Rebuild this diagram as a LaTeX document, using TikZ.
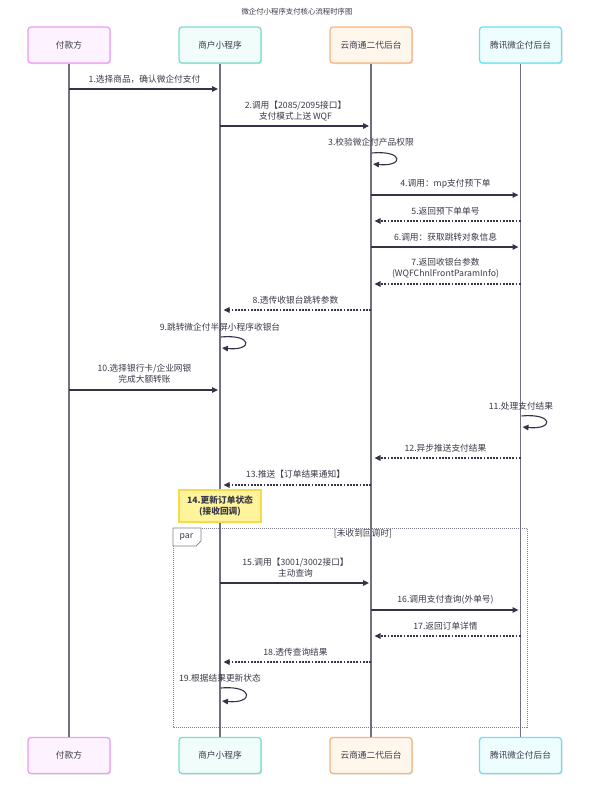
\documentclass[tikz,border=0pt]{standalone}
\usepackage{fontspec}
\setmainfont{Noto Sans CJK SC}
\usetikzlibrary{arrows.meta,shadows,calc}
\definecolor{txt}{HTML}{3A3A48}
\definecolor{lifec}{HTML}{70707E}
\definecolor{arr}{HTML}{33334A}
\definecolor{frm}{HTML}{80808C}
\definecolor{paB}{HTML}{EE9DF8}\definecolor{paF}{HTML}{FDF2FF}
\definecolor{shB}{HTML}{7EDCCB}\definecolor{shF}{HTML}{F0FDFA}
\definecolor{ysB}{HTML}{F8B47C}\definecolor{ysF}{HTML}{FFF6EC}
\definecolor{txB}{HTML}{6DE0F2}\definecolor{txF}{HTML}{EEFEFF}
\definecolor{noteF}{HTML}{FFF39C}\definecolor{noteB}{HTML}{F6D94C}
\tikzset{
  actor/.style={draw, line width=1.3pt, rounded corners=3pt, minimum width=82pt, minimum height=36pt,
     inner sep=0pt, text=txt, font=\fontsize{8.7}{11}\selectfont,
     drop shadow={shadow xshift=1pt, shadow yshift=-1.2pt, opacity=0.12, fill=black}},
  lifel/.style={draw=lifec, line width=1.6pt},
  msg/.style={draw=arr, line width=1.1pt, -{Triangle[length=6pt,width=5.5pt]}, shorten >=2pt},
  ret/.style={draw=arr, line width=1.1pt, dash pattern=on 1.8pt off 1.4pt, -{Triangle[length=6pt,width=5.5pt]}, shorten >=3.5pt},
  lbl/.style={text=txt, font=\fontsize{8.7}{11}\selectfont, align=center, inner sep=0pt},
}
\begin{document}
\begin{tikzpicture}[x=1pt,y=-1pt]
\useasboundingbox[fill=white] (0,0) rectangle (591,796);
\node[lbl, font=\fontsize{7.4}{9}\selectfont] (title) at (297,12) {微企付小程序支付核心流程时序图};
% actors top
\node[actor, draw=paB, fill=paF] (pa) at (69,45) {付款方};
\node[actor, draw=shB, fill=shF] (sh) at (220,45) {商户小程序};
\node[actor, draw=ysB, fill=ysF] (ys) at (371,45) {云商通二代后台};
\node[actor, draw=txB, fill=txF] (tx) at (520.5,45) {腾讯微企付后台};
% actors bottom
\node[actor, draw=paB, fill=paF] (pa2) at (69,755.5) {付款方};
\node[actor, draw=shB, fill=shF] (sh2) at (220,755.5) {商户小程序};
\node[actor, draw=ysB, fill=ysF] (ys2) at (371,755.5) {云商通二代后台};
\node[actor, draw=txB, fill=txF] (tx2) at (520.5,755.5) {腾讯微企付后台};
% par frame
\draw[frm, line width=0.8pt, dash pattern=on 1pt off 1pt] (173,528) rectangle (527,727);
\node[lbl] (parcond) at (363,534) {[未收到回调时]};
% lifelines
\draw[lifel] (pa.south) -- (pa2.north);
\draw[lifel] (sh.south) -- (sh2.north);
\draw[lifel] (ys.south) -- (ys2.north);
\draw[lifel] (tx.south) -- (tx2.north);
% par tab
\draw[frm, fill=white, line width=0.7pt] (173,528) -- (201,528) -- (201,541) -- (196,546) -- (173,546) -- cycle;
\node[lbl] (partab) at (186.5,537) {par};
% 1
\node[lbl] (l1) at (144.5,79) {1.选择商品，确认微企付支付};
\draw[msg] (pa |- 0,89) -- (sh |- 0,89);
% 2
\node[lbl] (l2) at (295.5,111) {2.调用【2085/2095接口】\\支付模式上送 WQF};
\draw[msg] (sh |- 0,126) -- (ys |- 0,126);
% 3
\node[lbl] (l3) at (371,142) {3.校验微企付产品权限};
\coordinate (s3a) at (372,153);
\coordinate (s3b) at (373,164);
\draw[draw=arr, line width=1.1pt, -{Triangle[length=6pt,width=5.5pt]}] (s3a) .. controls (404,150) and (404,167) .. (s3b);
% 4
\node[lbl] (l4) at (445.5,184) {4.调用：mp支付预下单};
\draw[msg] (ys |- 0,195) -- (tx |- 0,195);
% 5
\node[lbl] (l5) at (445.5,211) {5.返回预下单单号};
\draw[ret] (tx |- 0,221) -- (ys |- 0,221);
% 6
\node[lbl] (l6) at (445.5,237) {6.调用：获取跳转对象信息};
\draw[msg] (ys |- 0,247) -- (tx |- 0,247);
% 7
\node[lbl] (l7) at (445.5,268.5) {7.返回收银台参数\\(WQFChnlFrontParamInfo)};
\draw[ret] (tx |- 0,284) -- (ys |- 0,284);
% 8
\node[lbl] (l8) at (295.5,300) {8.透传收银台跳转参数};
\draw[ret] (ys |- 0,310) -- (sh |- 0,310);
% 9
\node[lbl] (l9) at (220,327) {9.跳转微企付半屏小程序收银台};
\coordinate (s9a) at (221,337);
\coordinate (s9b) at (222,348);
\draw[draw=arr, line width=1.1pt, -{Triangle[length=6pt,width=5.5pt]}] (s9a) .. controls (253,334) and (253,351) .. (s9b);
% 10
\node[lbl] (l10) at (144.5,374) {10.选择银行卡/企业网银\\完成大额转账};
\draw[msg] (pa |- 0,390) -- (sh |- 0,390);
% 11
\node[lbl] (l11) at (521,406) {11.处理支付结果};
\coordinate (s11a) at (521.5,416);
\coordinate (s11b) at (522.5,427);
\draw[draw=arr, line width=1.1pt, -{Triangle[length=6pt,width=5.5pt]}] (s11a) .. controls (554,413) and (554,430) .. (s11b);
% 12
\node[lbl] (l12) at (445.5,448) {12.异步推送支付结果};
\draw[ret] (tx |- 0,458) -- (ys |- 0,458);
% 13
\node[lbl] (l13) at (295.5,474) {13.推送【订单结果通知】};
\draw[ret] (ys |- 0,485) -- (sh |- 0,485);
% 14 note
\node[draw=noteB, fill=noteF, line width=1.2pt, minimum width=82pt, minimum height=32pt, inner sep=0pt,
      text=txt, font=\fontsize{8.7}{11}\selectfont\bfseries, align=center,
      drop shadow={shadow xshift=1pt, shadow yshift=-1.2pt, opacity=0.12, fill=black}] (n14) at (220,506) {14.更新订单状态\\(接收回调)};
% 15
\node[lbl] (l15) at (295.5,568) {15.调用【3001/3002接口】\\主动查询};
\draw[msg] (sh |- 0,583) -- (ys |- 0,583);
% 16
\node[lbl] (l16) at (445.5,600) {16.调用支付查询(外单号)};
\draw[msg] (ys |- 0,610) -- (tx |- 0,610);
% 17
\node[lbl] (l17) at (445.5,626) {17.返回订单详情};
\draw[ret] (tx |- 0,636) -- (ys |- 0,636);
% 18
\node[lbl] (l18) at (295.5,652) {18.透传查询结果};
\draw[ret] (ys |- 0,662) -- (sh |- 0,662);
% 19
\node[lbl] (l19) at (220,678) {19.根据结果更新状态};
\coordinate (s19a) at (221,688);
\coordinate (s19b) at (222,701);
\draw[draw=arr, line width=1.1pt, -{Triangle[length=6pt,width=5.5pt]}] (s19a) .. controls (254,685) and (254,704) .. (s19b);
\end{tikzpicture}
\end{document}
